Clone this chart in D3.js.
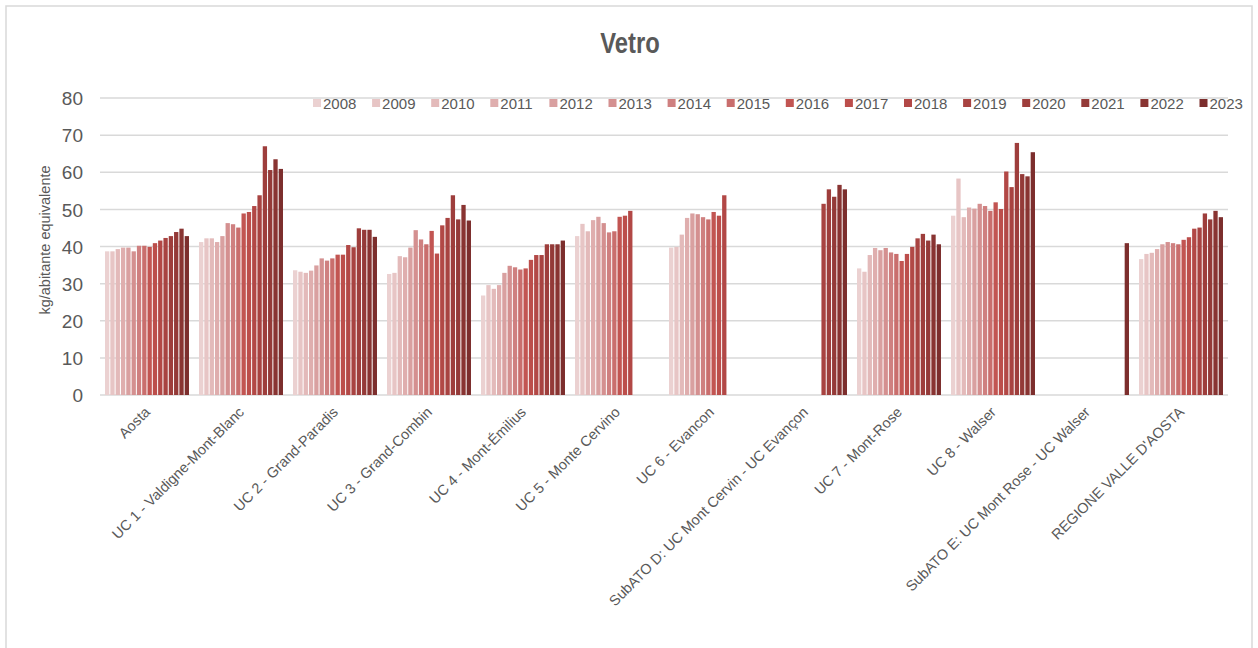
<!DOCTYPE html>
<html>
<head>
<meta charset="utf-8">
<script src="https://cdn.jsdelivr.net/npm/d3@7"></script>
<style>
  body { margin: 0; background: #fff; }
  text { font-family: "Liberation Sans", Arial, sans-serif; fill: #595959; }
</style>
</head>
<body>
<div id="chart"></div>
<script>
// DATA
var years = ['2008','2009','2010','2011','2012','2013','2014','2015','2016','2017','2018','2019','2020','2021','2022','2023'];
var categories = ['Aosta', 'UC 1 - Valdigne-Mont-Blanc', 'UC 2 - Grand-Paradis', 'UC 3 - Grand-Combin',
  'UC 4 - Mont-Émilius', 'UC 5 - Monte Cervino', 'UC 6 - Evancon', 'SubATO D: UC Mont Cervin - UC Evançon',
  'UC 7 - Mont-Rose', 'UC 8 - Walser', 'SubATO E: UC Mont Rose - UC Walser', "REGIONE VALLE D'AOSTA"];

// one value per year, null = no data
var aosta     = [38.7, 38.7, 39.3, 39.7, 39.7, 38.7, 40.2, 40.2, 39.9, 40.9, 41.6, 42.3, 42.8, 43.9, 44.8, 42.8];
var uc1       = [41.2, 42.2, 42.2, 41.2, 42.8, 46.3, 46.0, 45.1, 48.9, 49.3, 50.9, 53.8, 67.0, 60.6, 63.5, 60.9];
var uc2       = [33.6, 33.2, 32.9, 33.5, 34.9, 36.8, 36.2, 36.8, 37.8, 37.8, 40.4, 39.8, 44.9, 44.5, 44.5, 42.6];
var uc3       = [32.6, 32.9, 37.4, 37.1, 39.7, 44.4, 41.9, 40.6, 44.2, 38.1, 45.7, 47.7, 53.8, 47.3, 51.2, 47.0];
var uc4       = [26.8, 29.6, 28.6, 29.6, 32.9, 34.8, 34.4, 33.8, 34.1, 36.4, 37.7, 37.7, 40.6, 40.6, 40.6, 41.6];
var uc5       = [42.8, 46.1, 44.1, 47.1, 48.0, 46.3, 43.8, 44.1, 48.0, 48.3, 49.6, null, null, null, null, null];
var uc6       = [39.7, 39.9, 43.2, 47.7, 48.9, 48.7, 47.9, 47.3, 49.3, 48.3, 53.8, null, null, null, null, null];
var subatoD   = [null, null, null, null, null, null, null, null, null, null, null, 51.5, 55.4, 53.4, 56.6, 55.4];
var uc7       = [34.1, 33.2, 37.7, 39.6, 39.0, 39.6, 38.4, 38.0, 36.1, 38.0, 39.9, 42.2, 43.4, 41.6, 43.2, 40.6];
var uc8       = [48.3, 58.3, 47.9, 50.5, 50.2, 51.5, 50.9, 49.6, 51.9, 50.1, 60.2, 56.0, 67.9, 59.5, 58.9, 65.4];
var subatoE   = [null, null, null, null, null, null, null, null, null, null, null, null, null, null, null, 40.9];
var regione   = [36.6, 38.0, 38.3, 39.3, 40.6, 41.2, 40.9, 40.6, 41.8, 42.5, 44.8, 45.1, 48.9, 47.3, 49.6, 47.9];

var series = [aosta, uc1, uc2, uc3, uc4, uc5, uc6, subatoD, uc7, uc8, subatoE, regione];

var yTicks = [0, 10, 20, 30, 40, 50, 60, 70, 80];

var colors = ['#ebd1d1','#e7c5c5','#e3baba','#dfaeae','#d9a0a0','#d49090','#cf8080','#c96e6d',
              '#c25552','#bc4e4b','#b24846','#a84341','#9e3e3c','#943a38','#893432','#7c2e2d'];

// LAYOUT
var W = 1258, H = 648;
var plotLeft = 100, plotRight = 1228, plotTop = 98, plotBottom = 395;

var svg = d3.select('#chart').append('svg')
    .attr('width', W)
    .attr('height', H);

// chart frame
svg.append('rect')
    .attr('x', 6).attr('y', 6)
    .attr('width', 1246).attr('height', 660)
    .attr('fill', 'none')
    .attr('stroke', '#d9d9d9')
    .attr('stroke-width', 1.5);

var x0 = d3.scaleBand()
    .domain(categories)
    .range([plotLeft, plotRight])
    .paddingInner(0.096)
    .paddingOuter(0.048);

var x1 = d3.scaleBand()
    .domain(years)
    .range([0, x0.bandwidth()]);

var y = d3.scaleLinear()
    .domain([0, 80])
    .range([plotBottom, plotTop]);

// GRIDLINES
svg.append('g')
  .selectAll('line')
  .data(yTicks)
  .enter().append('line')
    .attr('x1', plotLeft).attr('x2', plotRight)
    .attr('y1', d => y(d)).attr('y2', d => y(d))
    .attr('stroke', '#d9d9d9')
    .attr('stroke-width', 1.5);

// Y AXIS
var yAxis = svg.append('g')
    .attr('transform', 'translate(' + (plotLeft - 17) + ',0)')
    .call(d3.axisLeft(y).tickValues(yTicks).tickSize(0).tickPadding(0));
yAxis.select('.domain').remove();
yAxis.selectAll('text')
    .attr('font-size', 19)
    .attr('dy', '0.35em')
    .style('font-family', '"Liberation Sans", Arial, sans-serif')
    .attr('fill', '#595959');

svg.append('text')
    .attr('transform', 'translate(50,240) rotate(-90)')
    .attr('text-anchor', 'middle')
    .attr('font-size', 14.5)
    .text('kg/abitante equivalente');

// BARS
var groups = svg.append('g')
  .selectAll('g')
  .data(categories)
  .enter().append('g')
    .attr('transform', d => 'translate(' + x0(d) + ',0)');

groups.selectAll('rect')
  .data((d, i) => years.map((yr, j) => ({ year: yr, value: series[i][j], idx: j })).filter(e => e.value != null))
  .enter().append('rect')
    .attr('x', d => x1(d.year) + 0.5)
    .attr('width', x1.bandwidth() - 1)
    .attr('y', d => y(d.value))
    .attr('height', d => plotBottom - y(d.value))
    .attr('fill', d => colors[d.idx]);

// CATEGORY LABELS
svg.append('g')
  .selectAll('text')
  .data(categories)
  .enter().append('text')
    .attr('transform', d => 'translate(' + (x0(d) + x0.bandwidth() / 2 + 4) + ',413) rotate(-45)')
    .attr('text-anchor', 'end')
    .attr('font-size', 14.5)
    .text(d => d);

// TITLE (narrowed to mimic a condensed face)
svg.append('text')
    .attr('transform', 'translate(630,53) scale(0.82,1)')
    .attr('text-anchor', 'middle')
    .attr('font-size', 29)
    .attr('font-weight', 'bold')
    .text('Vetro');

// LEGEND
var legend = svg.append('g')
  .selectAll('g')
  .data(years)
  .enter().append('g')
    .attr('transform', (d, i) => 'translate(' + (313 + i * 59.1) + ',99)');

legend.append('rect')
    .attr('width', 8).attr('height', 8)
    .attr('fill', (d, i) => colors[i]);

legend.append('text')
    .attr('x', 10).attr('y', 10)
    .attr('font-size', 15)
    .text(d => d);
</script>
</body>
</html>
